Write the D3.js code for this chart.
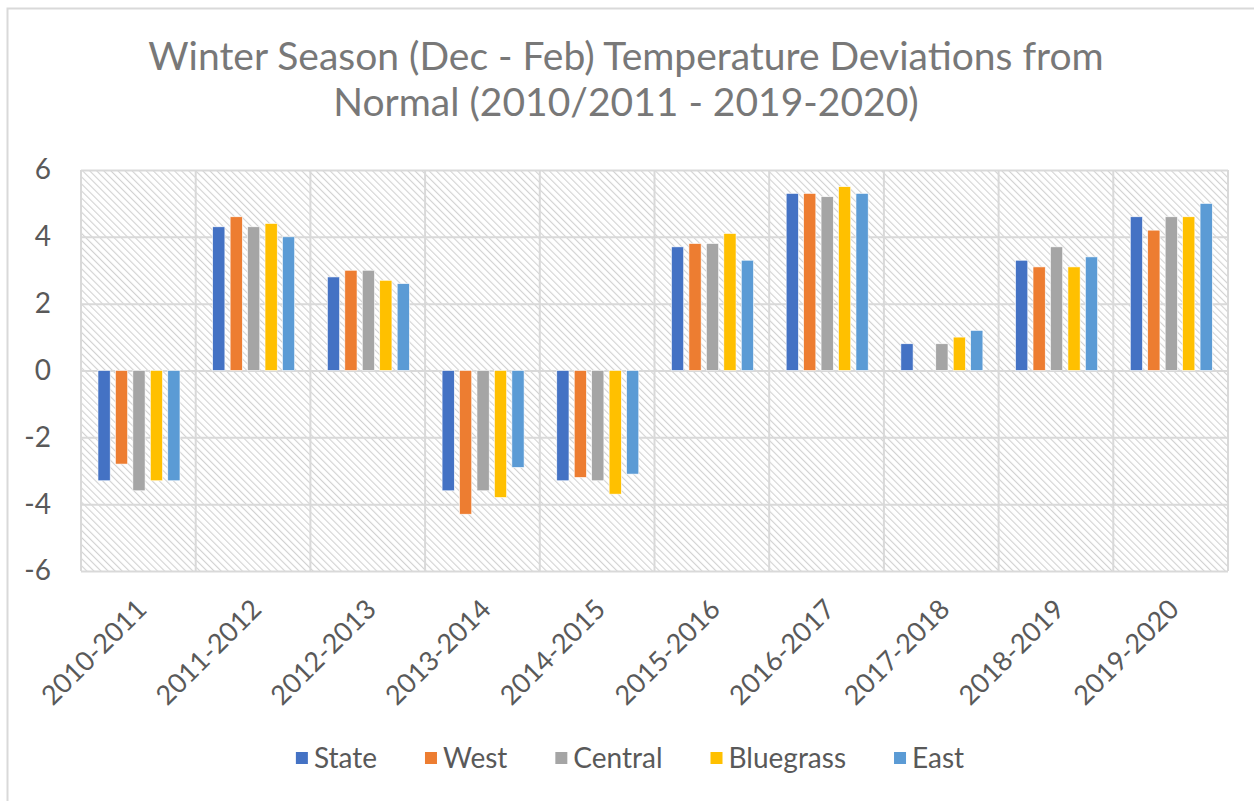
<!DOCTYPE html>
<html>
<head>
<meta charset="utf-8">
<script src="https://cdn.jsdelivr.net/npm/d3@7"></script>
<style>
  body { margin: 0; background: #fff; }
  text { font-family: Lato, "Open Sans", sans-serif; }
</style>
</head>
<body>
<svg id="chart"></svg>
<script>
// data
const seasons = ["2010-2011", "2011-2012", "2012-2013", "2013-2014", "2014-2015",
                 "2015-2016", "2016-2017", "2017-2018", "2018-2019", "2019-2020"];
const regions = ["State", "West", "Central", "Bluegrass", "East"];
const state     = [-3.3, 4.3, 2.8, -3.6, -3.3, 3.7, 5.3, 0.8, 3.3, 4.6];
const west      = [-2.8, 4.6, 3.0, -4.3, -3.2, 3.8, 5.3, 0.0, 3.1, 4.2];
const central   = [-3.6, 4.3, 3.0, -3.6, -3.3, 3.8, 5.2, 0.8, 3.7, 4.6];
const bluegrass = [-3.3, 4.4, 2.7, -3.8, -3.7, 4.1, 5.5, 1.0, 3.1, 4.6];
const east      = [-3.3, 4.0, 2.6, -2.9, -3.1, 3.3, 5.3, 1.2, 3.4, 5.0];
const yTicks = [-6, -4, -2, 0, 2, 4, 6];
const titleLines = ["Winter Season (Dec - Feb) Temperature Deviations from",
                    "Normal (2010/2011 - 2019-2020)"];

const seriesValues = { State: state, West: west, Central: central, Bluegrass: bluegrass, East: east };
const colors = ["#4472C4", "#ED7D31", "#A5A5A5", "#FFC000", "#5B9BD5"];

const W = 1254, H = 801;
const svg = d3.select("#chart").attr("width", W).attr("height", H);
const margin = { top: 170, right: 26, bottom: 230, left: 81 };
const width = W - margin.left - margin.right;
const height = H - margin.top - margin.bottom;

// chart frame (right & bottom edges fall outside the picture)
svg.append("rect")
    .attr("x", 7.5).attr("y", 8.5)
    .attr("width", W + 20).attr("height", H + 20)
    .attr("fill", "#fff")
    .attr("stroke", "#d9d9d9")
    .attr("stroke-width", 2);

// hatch pattern for plot area
const defs = svg.append("defs");
const pat = defs.append("pattern")
    .attr("id", "hatch")
    .attr("patternUnits", "userSpaceOnUse")
    .attr("width", 5).attr("height", 5)
    .attr("patternTransform", "rotate(-45)");
pat.append("rect").attr("width", 5).attr("height", 5).attr("fill", "#fff");
pat.append("line")
    .attr("x1", 0).attr("y1", 0).attr("x2", 0).attr("y2", 5)
    .attr("stroke", "#d2d2d2").attr("stroke-width", 2.2);

// title
const title = svg.append("text")
    .attr("x", 626)
    .attr("y", 70)
    .attr("text-anchor", "middle")
    .style("font-size", "39px")
    .style("fill", "#787878");
titleLines.forEach((t, i) => {
    title.append("tspan").attr("x", 626).attr("dy", i === 0 ? 0 : 46).text(t);
});

const g = svg.append("g").attr("transform", `translate(${margin.left},${margin.top})`);

const x0 = d3.scaleBand().domain(seasons).range([0, width]).padding(0);
const bw = x0.bandwidth();
const x1 = d3.scaleBand().domain(regions).range([bw * 0.148, bw * 0.863]).paddingInner(0.3);
const y = d3.scaleLinear().domain([-6, 6]).range([height, 0]);
const color = d3.scaleOrdinal().domain(regions).range(colors);

g.append("rect")
    .attr("width", width).attr("height", height)
    .attr("fill", "url(#hatch)");

// horizontal gridlines + y labels
const yAxis = g.append("g")
    .call(d3.axisLeft(y).tickValues(yTicks).tickSize(-width).tickFormat(d => String(d)).tickPadding(30));
yAxis.select(".domain").remove();
yAxis.selectAll(".tick line").attr("stroke", "#d9d9d9").attr("stroke-width", 2);
yAxis.selectAll(".tick text")
    .style("font-size", "28px")
    .style("fill", "#595959")
    .style("font-family", "Lato, sans-serif");

// vertical gridlines at category boundaries
g.append("g").selectAll("line")
    .data(seasons.concat(["end"]))
    .join("line")
    .attr("x1", (d, i) => i < seasons.length ? x0(d) : width)
    .attr("x2", (d, i) => i < seasons.length ? x0(d) : width)
    .attr("y1", 0).attr("y2", height)
    .attr("stroke", "#d9d9d9").attr("stroke-width", 2);

// bars
const rows = seasons.map((s, i) => ({ season: s, values: regions.map(r => ({ key: r, value: seriesValues[r][i] })) }));

g.append("g").selectAll("g")
    .data(rows)
    .join("g")
    .attr("transform", d => `translate(${x0(d.season)},0)`)
    .selectAll("rect")
    .data(d => d.values.filter(v => v.value !== 0))
    .join("rect")
    .attr("x", d => x1(d.key))
    .attr("width", x1.bandwidth())
    .attr("y", d => y(Math.max(0, d.value)))
    .attr("height", d => Math.abs(y(d.value) - y(0)))
    .attr("fill", d => color(d.key))
    .attr("stroke", "#fff")
    .attr("stroke-width", 0.6);

// category labels, rotated
g.append("g").selectAll("text")
    .data(seasons)
    .join("text")
    .attr("transform", d => `translate(${x0(d) + bw / 2 + 10},${height + 40}) rotate(-45)`)
    .attr("text-anchor", "end")
    .style("font-size", "27px")
    .style("fill", "#595959")
    .text(d => d);

// legend
const legend = svg.append("g").attr("transform", "translate(0,763)");
const items = legend.selectAll("g")
    .data(regions)
    .join("g");
items.append("rect")
    .attr("width", 12).attr("height", 12)
    .attr("y", -11)
    .attr("fill", d => color(d));
items.append("text")
    .attr("x", 18)
    .attr("y", 0)
    .attr("dy", "0.35em")
    .attr("transform", "translate(0,-5)")
    .style("font-size", "28px")
    .style("fill", "#595959")
    .text(d => d);

// lay out legend items centred
let widths = [];
items.each(function () { widths.push(18 + this.querySelector("text").getComputedTextLength()); });
const gap = 48;
const total = d3.sum(widths) + gap * (widths.length - 1);
let cx = 630 - total / 2;
items.attr("transform", (d, i) => {
    const t = `translate(${cx},0)`;
    cx += widths[i] + gap;
    return t;
});
</script>
</body>
</html>
